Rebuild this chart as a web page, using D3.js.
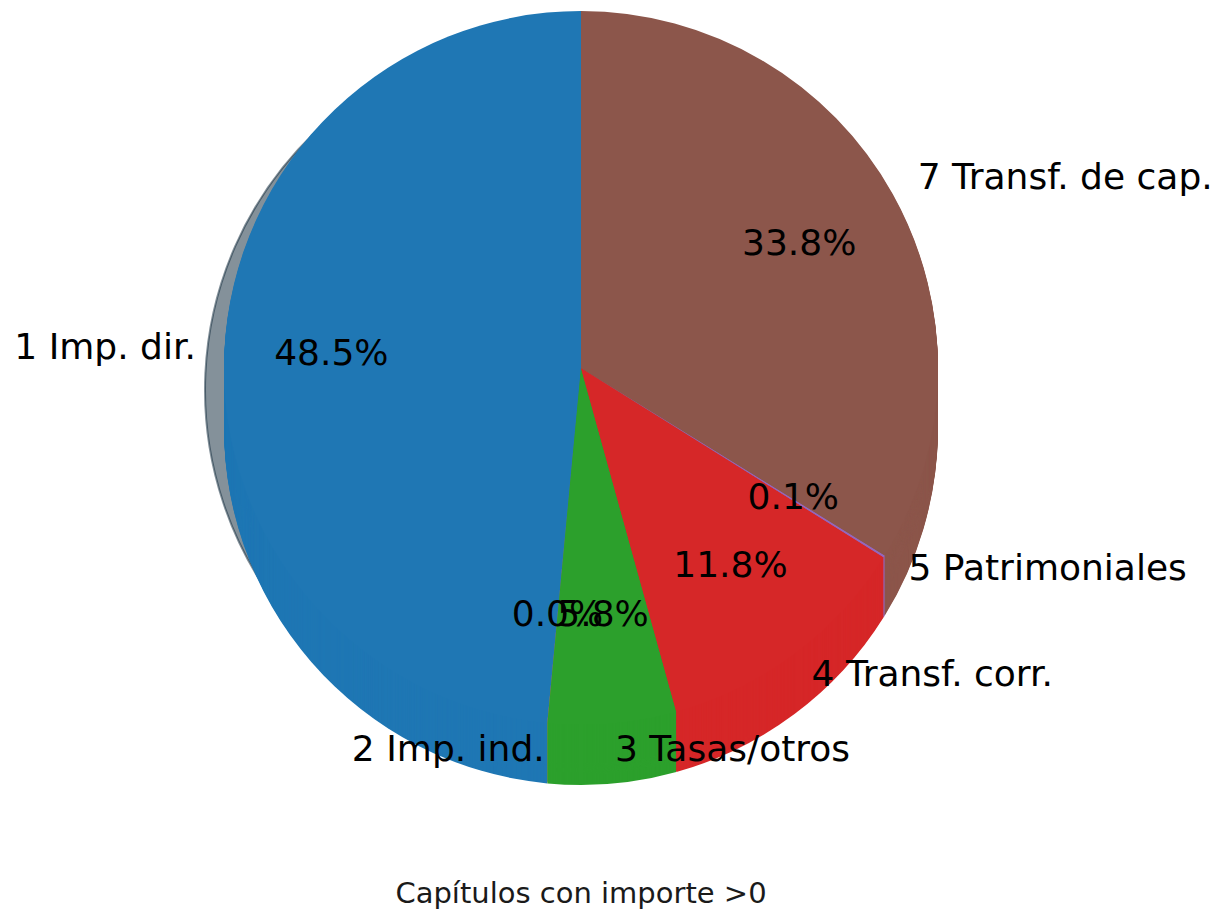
<!DOCTYPE html>
<html>
<head>
<meta charset="utf-8">
<script src="https://cdn.jsdelivr.net/npm/d3@7"></script>
<style>
  html, body { margin: 0; padding: 0; background: #ffffff; }
  svg { display: block; }
</style>
</head>
<body>
<svg id="chart" width="1220" height="910"></svg>
<script>
// ---- data ----
const categories = ["1 Imp. dir.", "2 Imp. ind.", "3 Tasas/otros", "4 Transf. corr.", "5 Patrimoniales", "7 Transf. de cap."];
const values = [48.5, 0.01, 5.8, 11.8, 0.1, 33.8];
const colors = ["#1f77b4", "#ff7f0e", "#2ca02c", "#d62728", "#9467bd", "#8c564b"];
const chartTitle = "Capítulos con importe >0";

// ---- layout ----
const W = 1220, H = 910;
const cx = 581, cy = 368, R = 357;
const depth = 60;                 // vertical extrusion of the pie
const shadowDx = -19, shadowDy = 22;
const labelR = R * 1.08, pctR = R * 0.7;
const font = "'DejaVu Sans', sans-serif";

const svg = d3.select("#chart");
svg.append("rect").attr("width", W).attr("height", H).attr("fill", "#ffffff");

const total = d3.sum(values);
const data = categories.map((c, i) => ({ cat: c, value: values[i], color: colors[i] }));

// counter-clockwise from 12 o'clock, like matplotlib startangle=90
const pie = d3.pie().value(d => d.value).sort(null).startAngle(0).endAngle(-2 * Math.PI);
const arcs = pie(data);
const arc = d3.arc().innerRadius(0).outerRadius(R);

const shadeOf = c => { const k = d3.rgb(c); return d3.rgb(k.r * 0.3, k.g * 0.3, k.b * 0.3).formatHex(); };

// ---- shadow ----
const shadow = svg.append("g").attr("transform", `translate(${cx + shadowDx},${cy + shadowDy})`);
shadow.selectAll("path").data(arcs).join("path")
  .attr("d", arc)
  .attr("fill", d => shadeOf(d.data.color))
  .attr("fill-opacity", 0.5)
  .attr("stroke", d => shadeOf(d.data.color))
  .attr("stroke-opacity", 0.5)
  .attr("stroke-width", 2);

// ---- extruded pie: stacked copies, top face last ----
const layers = d3.range(depth, -1, -1);
svg.selectAll("g.layer").data(layers).join("g")
  .attr("class", "layer")
  .attr("transform", t => `translate(${cx},${cy + t})`)
  .selectAll("path").data(arcs).join("path")
  .attr("d", arc)
  .attr("fill", d => d.data.color);

// ---- labels ----
const mid = d => (d.startAngle + d.endAngle) / 2;
const gLab = svg.append("g").attr("transform", `translate(${cx},${cy})`)
  .attr("font-family", font).attr("font-size", 36).attr("fill", "#000");

gLab.selectAll("text.cat").data(arcs).join("text")
  .attr("class", "cat")
  .attr("x", d => Math.sin(mid(d)) * labelR)
  .attr("y", d => -Math.cos(mid(d)) * labelR)
  .attr("dy", "0.25em")
  .attr("text-anchor", d => Math.sin(mid(d)) > 0 ? "start" : "end")
  .text(d => d.data.cat);

gLab.selectAll("text.pct").data(arcs).join("text")
  .attr("class", "pct")
  .attr("x", d => Math.sin(mid(d)) * pctR)
  .attr("y", d => -Math.cos(mid(d)) * pctR)
  .attr("dy", "0.25em")
  .attr("text-anchor", "middle")
  .text(d => (d.value / total * 100).toFixed(1) + "%");

// ---- title (below) ----
svg.append("text")
  .attr("x", cx).attr("y", 903)
  .attr("text-anchor", "middle")
  .attr("font-family", font).attr("font-size", 29).attr("fill", "#1a1a1a")
  .text(chartTitle);
</script>
</body>
</html>
